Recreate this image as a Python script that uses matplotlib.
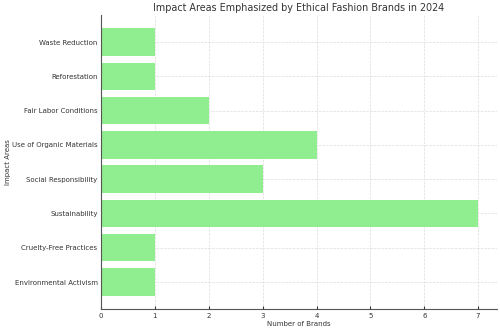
import matplotlib.pyplot as plt

# Data lest av figuren
omraader = ['Environmental Activism', 'Cruelty-Free Practices', 'Sustainability',
            'Social Responsibility', 'Use of Organic Materials', 'Fair Labor Conditions',
            'Reforestation', 'Waste Reduction']
antall = [1, 1, 7, 3, 4, 2, 1, 1]

tekstfarge = '#333333'

fig, ax = plt.subplots(figsize=(5, 3.32), dpi=100)
fig.subplots_adjust(left=0.202, right=0.994, top=0.955, bottom=0.069)

ax.barh(omraader, antall, color='lightgreen', height=0.8, zorder=2)

ax.set_title('Impact Areas Emphasized by Ethical Fashion Brands in 2024',
             fontsize=6.9, color=tekstfarge, pad=3)
ax.set_xlabel('Number of Brands', fontsize=5, color=tekstfarge, labelpad=2)
ax.set_ylabel('Impact Areas', fontsize=5, color=tekstfarge, labelpad=1)

ax.tick_params(labelsize=5, colors=tekstfarge, direction='in', length=2.5, pad=2.5)
ax.grid(True, linestyle='--', linewidth=0.5, color='#dcdcdc', zorder=0)

ax.spines['top'].set_visible(False)
ax.spines['right'].set_visible(False)
ax.spines['left'].set_color('#555555')
ax.spines['bottom'].set_color('#555555')

fig.savefig('out.png', dpi=100)
